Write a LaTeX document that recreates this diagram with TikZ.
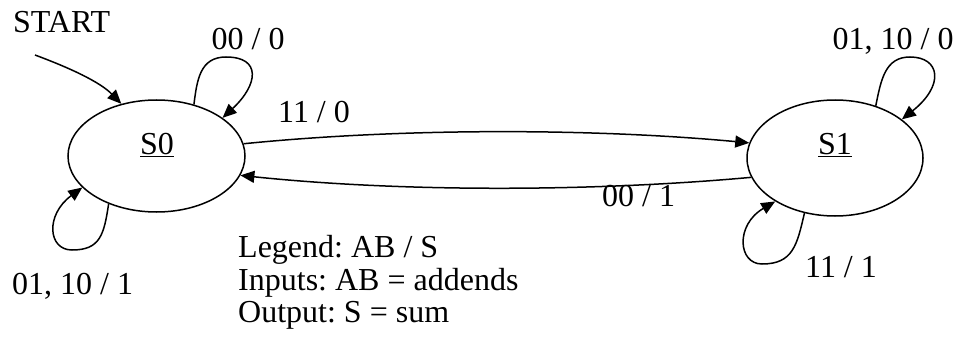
\documentclass[tikz,border=0pt]{standalone}
\usepackage{fontspec}
\setmainfont{Liberation Serif}
\usetikzlibrary{shapes.geometric,arrows.meta}
\frenchspacing
\begin{document}
\begin{tikzpicture}[x=1pt,y=-1pt,
  state/.style={ellipse,draw,line width=1.5pt,inner sep=0pt},
  txt/.style={inner sep=0pt,font=\fontsize{32}{35}\selectfont\frenchspacing},
  lbl/.style={txt,anchor=base west},
  edge/.style={line width=1.5pt,-{Triangle[length=14pt,width=12pt]}}]
\useasboundingbox (0,0) rectangle (959,337);
% states
\node[state,minimum width=177pt,minimum height=112pt] (s0) at (156.5,156) {};
\node[state,minimum width=176pt,minimum height=116pt] (s1) at (835,158) {};
\node[txt,anchor=base] (s0t) at (157,154) {\underline{S0}};
\node[txt,anchor=base] (s1t) at (835,154) {\underline{S1}};
% start
\node[lbl] (start) at (13,32.5) {START};
\coordinate (st) at (35,55);
\draw[edge] (st) .. controls (70,68) and (100,82) .. (s0.124);
% self loops S0
\draw[edge] (s0.54) .. controls (197,80) and (200,57) .. (226,57) .. controls (262,57) and (258,85) .. (s0.30);
\draw[edge] (s0.225) .. controls (104,235) and (100,250) .. (72,250) .. controls (48,250) and (45,215) .. (s0.203);
% self loops S1
\draw[edge] (s1.52) .. controls (881,80) and (885,57) .. (910,57) .. controls (940,57) and (945,85) .. (s1.30);
\draw[edge] (s1.241) .. controls (797,245) and (793,264) .. (762,264) .. controls (738,264) and (735,225) .. (s1.216);
% transitions
\draw[edge] (s0.8) .. controls (400,128) and (590,128) .. (s1.170);
\draw[edge] (s1.193) .. controls (590,192) and (400,192) .. (s0.-13);
% labels
\node[lbl] (l00a) at (211.5,50) {00 / 0};
\node[lbl] (l11a) at (278,122.5) {11 / 0};
\node[lbl] (l00b) at (602,206) {00 / 1};
\node[lbl] (l0110a) at (12,294) {01, 10 / 1};
\node[lbl] (l0110b) at (832.5,50) {01, 10 / 0};
\node[lbl] (l11b) at (805,277.5) {11 / 1};
% legend
\node[lbl] (leg1) at (238,257) {Legend: AB / S};
\node[lbl] (leg2) at (238,290) {Inputs: AB = addends};
\node[lbl] (leg3) at (238,322) {Output: S = sum};
\end{tikzpicture}
\end{document}
